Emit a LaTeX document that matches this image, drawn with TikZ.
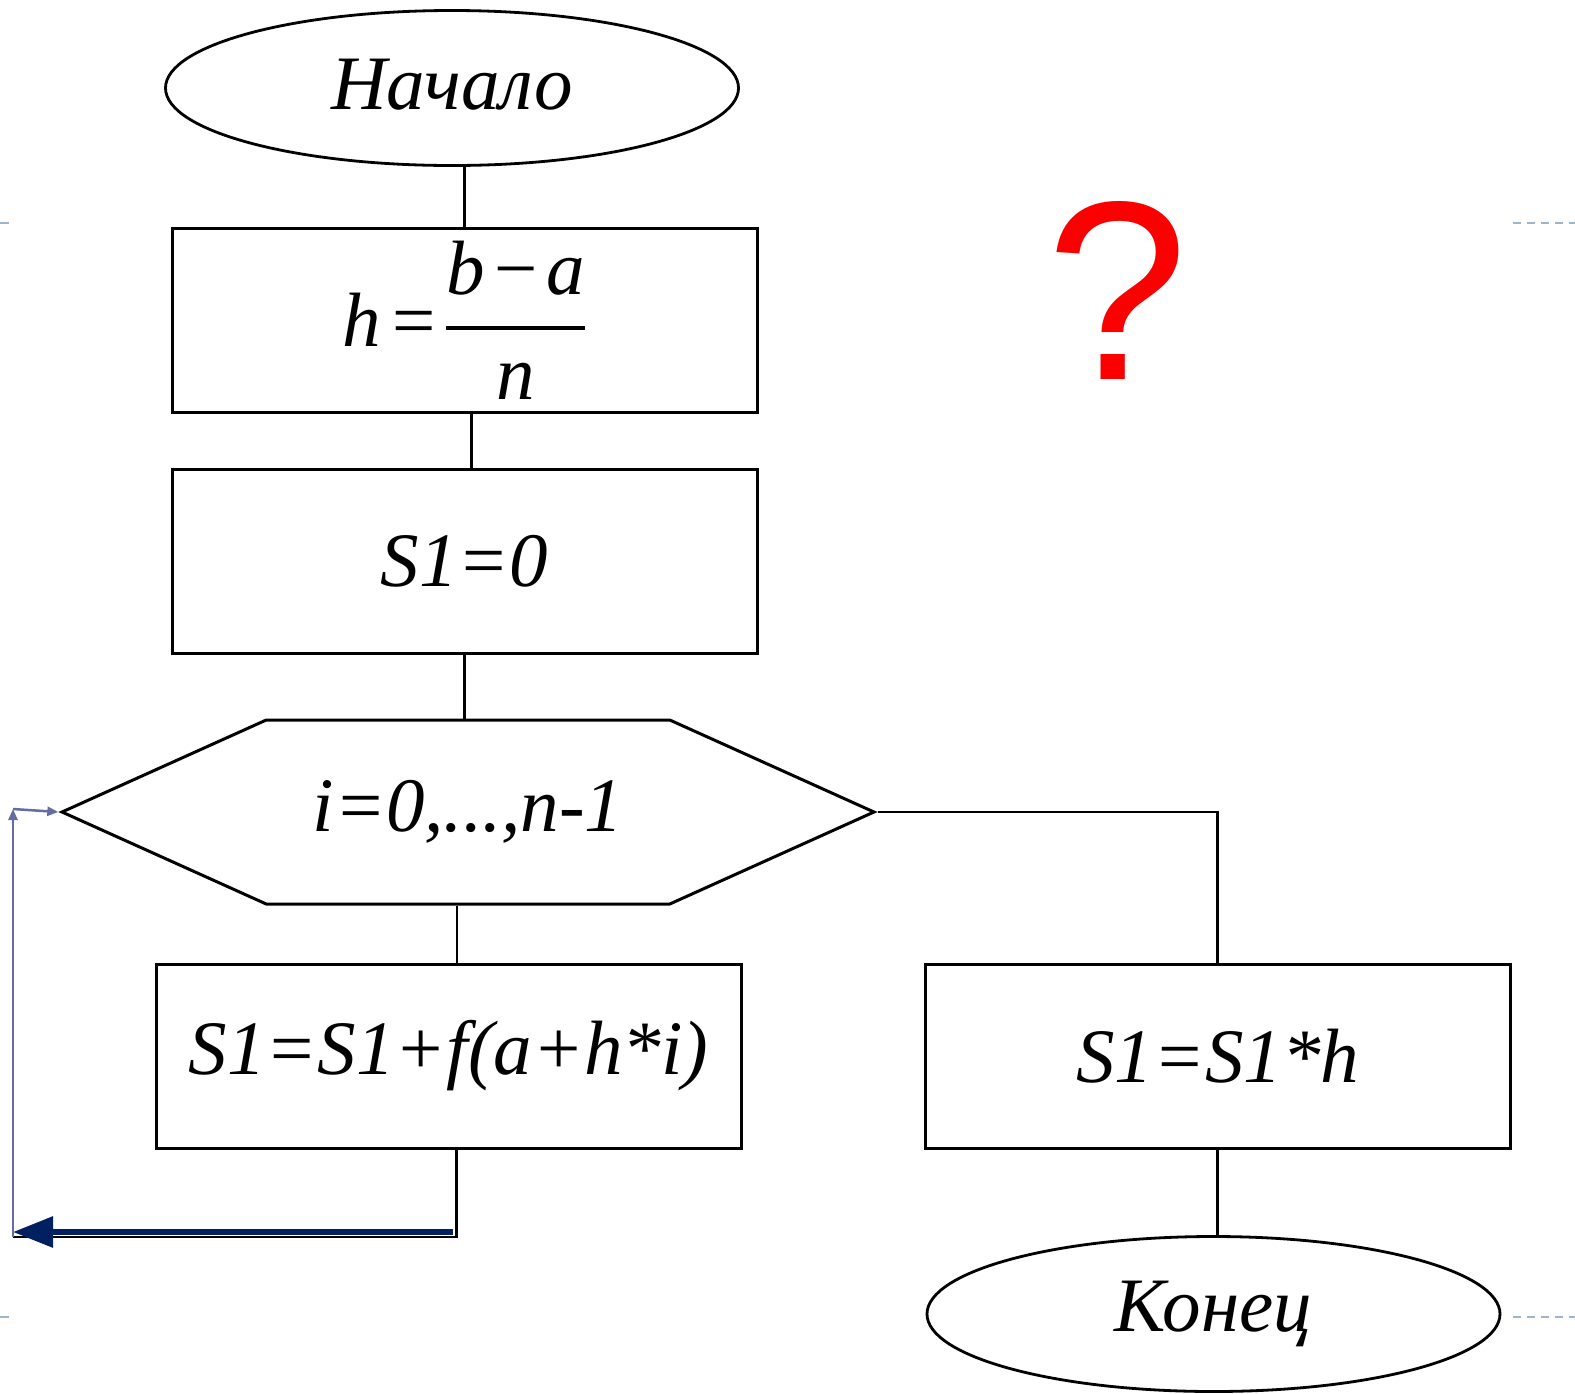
\RequirePackage{fix-cm}
\documentclass[tikz,border=0pt]{standalone}
\usepackage{fontspec}
\setmainfont{Liberation Serif}
\newfontfamily\qfont{Liberation Sans}
\usepackage{tikz}
\usetikzlibrary{shapes.geometric, shapes.symbols, arrows.meta}
\definecolor{loopnavy}{RGB}{0, 32, 96}
\definecolor{loopgray}{RGB}{100, 108, 160}
\definecolor{slideblue}{RGB}{160, 180, 200}
\definecolor{askred}{RGB}{250, 0, 0}

\tikzset{
    term/.style={draw, ellipse, line width=2.8pt, inner sep=0pt, minimum width=573pt, minimum height=155pt, font=\fontsize{77}{90}\selectfont\itshape},
    proc/.style={draw, line width=3pt, inner sep=0pt, minimum width=585pt, minimum height=184pt, font=\fontsize{77}{90}\selectfont\itshape},
    loophead/.style={draw, shape=signal, signal to=west and east, signal pointer angle=48.5, line width=3pt, inner sep=0pt, minimum width=812pt, minimum height=184pt, font=\fontsize{77}{90}\selectfont\itshape},
    link/.style={line width=2.8pt},
}

\begin{document}
\begin{tikzpicture}[x=1pt, y=-1pt]
    \useasboundingbox (0,0) rectangle (1575,1393);

    % Slide decoration
    \draw[slideblue, line width=2.5pt] (0,223) -- (9,223);
    \draw[slideblue, line width=2.5pt] (0,1317) -- (9,1317);
    \draw[slideblue, line width=2.5pt, dash pattern=on 8pt off 6pt] (1513,223) -- (1575,223);
    \draw[slideblue, line width=2.5pt, dash pattern=on 8pt off 6pt] (1513,1317) -- (1575,1317);

    % Blocks
    \node[term] (start) at (452,88) {\raisebox{8pt}{Начало}};
    \node[proc] (step) at (464.5,320.5) {\textit{h}\kern6pt=\kern6pt$\displaystyle{\mbox{\textit{b}\kern5pt−\kern5pt\textit{a}}\above4pt\mbox{\textit{n}}}$};
    \node[proc] (init) at (464.5,561) {S1=0};
    \node[loophead] (loop) at (468,812) {i=0,...,n-1};
    \node[proc] (body) at (448.5,1056) {S1=S1+f(a+h*i)};
    \node[proc] (scale) at (1217.5,1056) {S1=S1*h};
    \node[term] (stop) at (1213.5,1314) {Конец};

    \node[font=\fontsize{255}{260}\selectfont\qfont, text=askred] (ask) at (1117,290) {?};

    % Connectors
    \draw[link] (step.north |- start.south) -- (step.north);
    \draw[link] ([xshift=7pt]step.south) -- ([xshift=7pt]init.north);
    \draw[link] (init.south) -- (init.south |- loop.north);
    \draw[link] ([xshift=-11pt]loop.south) -- ([xshift=-11pt]loop.south |- body.north);
    \draw[link] (loop.east) -| (scale.north);
    \draw[link] (scale.south) -- (scale.south |- stop.north);

    % Back to the loop head
    \coordinate (lb) at (13,1237);
    \coordinate (lt) at (13,809);
    \draw[link] ([xshift=8pt]body.south) |- (lb);
    \draw[loopnavy, line width=6pt, -{Triangle[length=40pt, width=30pt]}] ([xshift=4pt, yshift=5pt]body.south |- lb) -- ([yshift=5pt]lb);
    \draw[loopgray, line width=2.5pt, -{Triangle[length=11pt, width=9pt]}] (lb) -- (lt);
    \draw[loopgray, line width=2.5pt, -{Triangle[length=11pt, width=9pt]}] (lt) -- (loop.west);
\end{tikzpicture}
\end{document}
